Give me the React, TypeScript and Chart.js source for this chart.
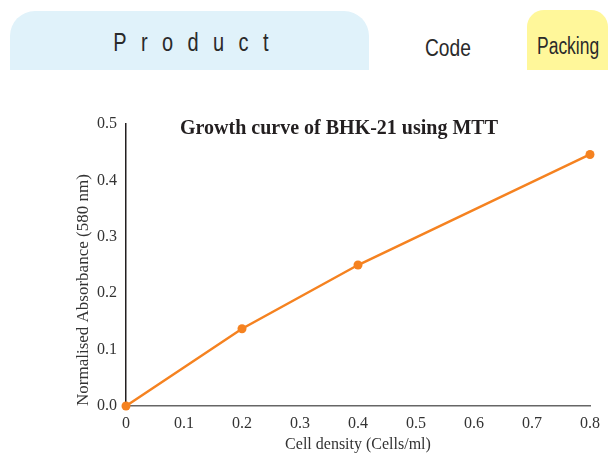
import React, { useEffect, useRef } from "react";
import { Chart, registerables } from "chart.js";

Chart.register(...registerables);

const cellDensity = [0, 0.2, 0.4, 0.8];
const absorbance = [0, 0.137, 0.25, 0.446];
const chartTitle = "Growth curve of BHK-21 using MTT";
const xTitle = "Cell density (Cells/ml)";
const yTitle = "Normalised Absorbance (580 nm)";
const headerProduct = "Product";
const headerCode = "Code";
const headerPacking = "Packing";

const sans = '"Liberation Sans", Arial, sans-serif';
const serif = '"Liberation Serif", "Times New Roman", serif';

const titlePlugin = {
  id: "innerTitle",
  afterDraw(chart: any) {
    const { ctx, chartArea } = chart;
    ctx.save();
    ctx.font = `bold 20px ${serif}`;
    ctx.fillStyle = "#231f20";
    ctx.textAlign = "center";
    ctx.textBaseline = "middle";
    ctx.fillText(chartTitle, (chartArea.left + chartArea.right) / 2 - 19, chartArea.top + 5);
    ctx.restore();
  },
};

export default function App() {
  const ref = useRef<HTMLCanvasElement>(null);
  useEffect(() => {
    const chart = new Chart(ref.current!, {
      type: "line",
      data: {
        datasets: [
          {
            data: cellDensity.map((x, i) => ({ x, y: absorbance[i] })),
            borderColor: "#f58220",
            backgroundColor: "#f58220",
            borderWidth: 2.5,
            pointRadius: 4.5,
            pointHoverRadius: 4.5,
            pointBorderWidth: 0,
            tension: 0,
            clip: false as any,
          },
        ],
      },
      options: {
        animation: false,
        responsive: false,
        maintainAspectRatio: false,
        layout: { padding: { left: 73, right: 14, top: 29, bottom: 0 } },
        plugins: { legend: { display: false }, tooltip: { enabled: false } },
        scales: {
          x: {
            type: "linear",
            min: 0,
            max: 0.8,
            afterFit: (s: any) => {
              s.height = 48;
            },
            grid: { display: false, drawTicks: false },
            border: { display: true, color: "#666", width: 1.5 },
            ticks: {
              stepSize: 0.1,
              padding: 8,
              color: "#333",
              font: { family: serif, size: 16 },
              maxRotation: 0,
              callback: (v: any) => (v === 0 ? "0" : Number(v).toFixed(1)),
            },
            title: {
              display: true,
              text: xTitle,
              color: "#333",
              font: { family: serif, size: 16 },
              padding: { top: 0, bottom: 0 },
            },
          },
          y: {
            min: 0,
            max: 0.5,
            afterFit: (s: any) => {
              s.width = 53;
            },
            grid: { display: false, drawTicks: false },
            border: { display: true, color: "#231f20", width: 1.5 },
            ticks: {
              stepSize: 0.1,
              padding: 9,
              color: "#333",
              font: { family: serif, size: 16 },
              callback: (v: any) => Number(v).toFixed(1),
            },
            title: {
              display: true,
              text: yTitle,
              align: "start",
              color: "#333",
              font: { family: serif, size: 17 },
              padding: { top: 0, bottom: 0 },
            },
          },
        },
      },
      plugins: [titlePlugin],
    });
    return () => chart.destroy();
  }, []);

  return (
    <div style={{ position: "fixed", left: 0, top: 0, width: 608, height: 454, background: "#fff", overflow: "hidden" }}>
      <div
        style={{
          position: "absolute",
          left: 10,
          top: 11,
          width: 359,
          height: 59,
          background: "#e0f2fa",
          borderRadius: "25px 25px 0 0",
        }}
      />
      <div
        style={{
          position: "absolute",
          left: 10,
          top: 30,
          width: 359,
          textAlign: "center",
          fontFamily: sans,
          fontSize: 25,
          lineHeight: "25px",
          color: "#2a2a2a",
        }}
      >
        <span
          style={{
            display: "inline-block",
            letterSpacing: 18,
            marginRight: -18,
            transform: "scaleX(0.8)",
            transformOrigin: "center",
          }}
        >
          {headerProduct}
        </span>
      </div>
      <div
        style={{
          position: "absolute",
          left: 425,
          top: 36,
          fontFamily: sans,
          fontSize: 24,
          lineHeight: "24px",
          color: "#2a2a2a",
          transform: "scaleX(0.8)",
          transformOrigin: "left",
        }}
      >
        {headerCode}
      </div>
      <div
        style={{
          position: "absolute",
          left: 527,
          top: 10,
          width: 81,
          height: 60,
          background: "#fff79a",
          borderRadius: "17px 17px 0 0",
        }}
      />
      <div
        style={{
          position: "absolute",
          left: 537,
          top: 34,
          fontFamily: sans,
          fontSize: 23,
          lineHeight: "24px",
          color: "#2a2a2a",
          transform: "scaleX(0.76)",
          transformOrigin: "left",
          whiteSpace: "nowrap",
        }}
      >
        {headerPacking}
      </div>
      <canvas
        ref={ref}
        width={608}
        height={359}
        style={{ position: "absolute", left: 0, top: 95, width: 608, height: 359 }}
      />
    </div>
  );
}
